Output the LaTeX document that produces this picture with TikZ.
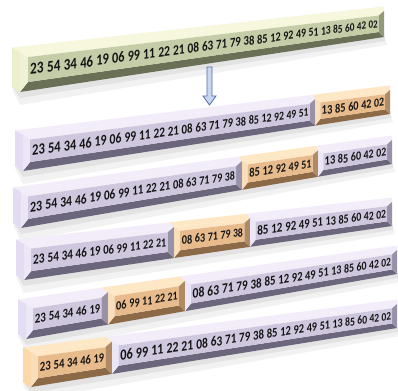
\documentclass[tikz,border=0pt]{standalone}
\usepackage{fontspec}
\setmainfont{Carlito}
\definecolor{gF}{RGB}{196,204,168}
\definecolor{gT}{RGB}{246,247,220}
\definecolor{gE}{RGB}{236,239,204}
\definecolor{gB}{RGB}{106,112,86}
\definecolor{gL}{RGB}{240,242,214}
\definecolor{gR}{RGB}{146,152,120}
\definecolor{lF}{RGB}{206,199,222}
\definecolor{lT}{RGB}{242,237,249}
\definecolor{lE}{RGB}{228,220,243}
\definecolor{lB}{RGB}{108,102,124}
\definecolor{lL}{RGB}{236,231,246}
\definecolor{lR}{RGB}{152,146,168}
\definecolor{oF}{RGB}{232,187,140}
\definecolor{oT}{RGB}{253,231,196}
\definecolor{oE}{RGB}{250,216,170}
\definecolor{oB}{RGB}{140,106,72}
\definecolor{oL}{RGB}{248,222,186}
\definecolor{oR}{RGB}{176,138,100}
\definecolor{arrD}{RGB}{79,113,170}
\definecolor{arrF}{RGB}{200,214,238}
\tikzset{numtxt/.style={inner sep=0pt, outer sep=0pt, text=black!92}}
\newcommand\rowdef[6]{\def\rxL{#1}\def\ryTL{#2}\def\ryBL{#3}\def\rxR{#4}\def\ryTR{#5}\def\ryBR{#6}}
\newcommand\tb[3]{%
 \pgfmathsetmacro#2{\ryTL+((#1)-\rxL)/(\rxR-\rxL)*(\ryTR-\ryTL)}%
 \pgfmathsetmacro#3{\ryBL+((#1)-\rxL)/(\rxR-\rxL)*(\ryBR-\ryBL)}}
\newcommand\rowshadow{%
 \fill[black,opacity=0.05] (\rxL-8,\ryBL-3) -- (\rxR,\ryBR-3) -- (\rxR+3,\ryBR+8) -- (\rxL,\ryBL+13) -- cycle;
 \fill[black,opacity=0.06] (\rxL-6,\ryBL-3) -- (\rxR,\ryBR-3) -- (\rxR+1,\ryBR+4) -- (\rxL,\ryBL+6) -- cycle;}
\newcommand\segbox[7]{%
 \pgfmathsetmacro\sxa{#1}\pgfmathsetmacro\sxb{#2}%
 \tb{\sxa}{\sta}{\sba}\tb{\sxb}{\stb}{\sbb}%
 \pgfmathsetmacro\sha{\sba-\sta}\pgfmathsetmacro\shb{\sbb-\stb}%
 \pgfmathsetmacro\sda{-8*(\rxR-\sxa)/(\rxR-\rxL)}%
 \pgfmathsetmacro\sdb{-8*(\rxR-\sxb)/(\rxR-\rxL)}%
 \pgfmathsetmacro\pax{\sxa+\sda}\pgfmathsetmacro\pbx{\sxb+\sdb}%
 \pgfmathsetmacro\pat{\sta-4.5}\pgfmathsetmacro\pbt{\stb-4.5}\pgfmathsetmacro\pab{\sba-4.5}%
 \fill[#3T] (\sxa,\sta) -- (\sxb,\stb) -- (\pbx,\pbt) -- (\pax,\pat) -- cycle;
 \ifnum#4=1
 \fill[#3E] (\sxa,\sta) -- (\pax,\pat) -- (\pax,\pab) -- (\sxa,\sba) -- cycle;
 \fi
 \pgfmathsetmacro\ixa{\sxa+0.2*\sha}\pgfmathsetmacro\ixb{\sxb-0.2*\shb}%
 \tb{\ixa}{\qta}{\qba}\pgfmathsetmacro\qha{\qba-\qta}%
 \tb{\ixb}{\qtb}{\qbb}\pgfmathsetmacro\qhb{\qbb-\qtb}%
 \pgfmathsetmacro\ita{\qta+0.15*\qha}\pgfmathsetmacro\iba{\qba-0.22*\qha}%
 \pgfmathsetmacro\itb{\qtb+0.15*\qhb}\pgfmathsetmacro\ibb{\qbb-0.22*\qhb}%
 \fill[#3T] (\sxa,\sta) -- (\sxb,\stb) -- (\ixb,\itb) -- (\ixa,\ita) -- cycle;
 \fill[#3B] (\sxa,\sba) -- (\sxb,\sbb) -- (\ixb,\ibb) -- (\ixa,\iba) -- cycle;
 \fill[#3L] (\sxa,\sta) -- (\ixa,\ita) -- (\ixa,\iba) -- (\sxa,\sba) -- cycle;
 \fill[#3R] (\sxb,\stb) -- (\ixb,\itb) -- (\ixb,\ibb) -- (\sxb,\sbb) -- cycle;
 \fill[#3F] (\ixa,\ita) -- (\ixb,\itb) -- (\ixb,\ibb) -- (\ixa,\iba) -- cycle;
 \pgfmathsetmacro\txa{\ixa+0.06*\sha}\pgfmathsetmacro\txb{\ixb-0.04*\shb}%
 \pgfmathsetmacro\dhdx{(\ryBR-\ryTR-\ryBL+\ryTL)/(\rxR-\rxL)}%
 \pgfmathsetmacro\hta{\ryBL-\ryTL+\dhdx*(\txa-\rxL)}%
 \pgfmathsetmacro\htb{\ryBL-\ryTL+\dhdx*(\txb-\rxL)}%
 \pgfmathsetmacro\Stot{ln(\htb/\hta)/\dhdx}%
 \pgfmathsetmacro\emt{#5*1.014+(#5-1)*0.256}%
 \pgfmathsetmacro\kk{\Stot/\emt}%
 \pgfmathsetmacro\slp{-((\ryTR-\ryTL)/(\rxR-\rxL)+0.465*\dhdx)}%
 \foreach \nm [count=\Qi] in {#6}{%
   \pgfmathsetmacro\Qe{(\Qi-1)*1.27+0.507}%
   \pgfmathsetmacro\Qh{\hta*exp(\dhdx*\kk*\Qe)}%
   \pgfmathsetmacro\Qx{\txa+(\Qh-\hta)/\dhdx}%
   \tb{\Qx}{\Qyt}{\Qyb}%
   \pgfmathsetmacro\Qyc{\Qyt+0.465*(\Qyb-\Qyt)}%
   \pgfmathsetmacro\Qfs{\kk*\Qh}%
   \node[numtxt, yslant=\slp, yscale=1.24, font=\fontsize{\Qfs pt}{\Qfs pt}\selectfont\bfseries] (#7-\Qi) at (\Qx,\Qyc) {\nm};
 }}
\begin{document}
\begin{tikzpicture}[x=1pt,y=-1pt]
\useasboundingbox (0,0) rectangle (398,390);
\fill[white] (0,0) rectangle (398,390);
% top bar
\rowdef{20}{52}{92}{384}{11}{37}
\rowshadow
\segbox{20}{384}{g}{1}{25}{23,54,34,46,19,06,99,11,22,21,08,63,71,79,38,85,12,92,49,51,13,85,60,42,02}{r0}
% arrow
\fill[arrF] (207,67) -- (212,67) -- (212,96) -- (216,96) -- (209.5,105) -- (203,96) -- (207,96) -- cycle;
\draw[arrD, line width=0.8pt, line join=miter] (207,67) -- (212,67) -- (212,96) -- (216,96) -- (209.5,105) -- (203,96) -- (207,96) -- cycle;
% row 1
\rowdef{23}{135}{171}{390}{90}{114}
\rowshadow
\segbox{23}{315}{l}{1}{20}{23,54,34,46,19,06,99,11,22,21,08,63,71,79,38,85,12,92,49,51}{r1a}
\segbox{315}{390}{o}{0}{5}{13,85,60,42,02}{r1b}
% row 2
\rowdef{21}{192}{228}{392}{140}{164}
\rowshadow
\segbox{21}{242}{l}{1}{15}{23,54,34,46,19,06,99,11,22,21,08,63,71,79,38}{r2a}
\segbox{242}{318}{o}{0}{5}{85,12,92,49,51}{r2b}
\segbox{318}{392}{l}{0}{5}{13,85,60,42,02}{r2c}
% row 3
\rowdef{24}{244}{280}{392}{202}{226}
\rowshadow
\segbox{24}{174}{l}{1}{10}{23,54,34,46,19,06,99,11,22,21}{r3a}
\segbox{174}{250}{o}{0}{5}{08,63,71,79,38}{r3b}
\segbox{250}{392}{l}{0}{10}{85,12,92,49,51,13,85,60,42,02}{r3c}
% row 4
\rowdef{26}{304}{339}{397}{250}{274}
\rowshadow
\segbox{26}{108}{l}{1}{5}{23,54,34,46,19}{r4a}
\segbox{108}{185}{o}{0}{5}{06,99,11,22,21}{r4b}
\segbox{185}{397}{l}{0}{15}{08,63,71,79,38,85,12,92,49,51,13,85,60,42,02}{r4c}
% row 5
\rowdef{31}{352}{387}{397}{304}{328}
\rowshadow
\segbox{31}{112}{o}{1}{5}{23,54,34,46,19}{r5a}
\segbox{112}{397}{l}{0}{20}{06,99,11,22,21,08,63,71,79,38,85,12,92,49,51,13,85,60,42,02}{r5b}
\end{tikzpicture}
\end{document}
